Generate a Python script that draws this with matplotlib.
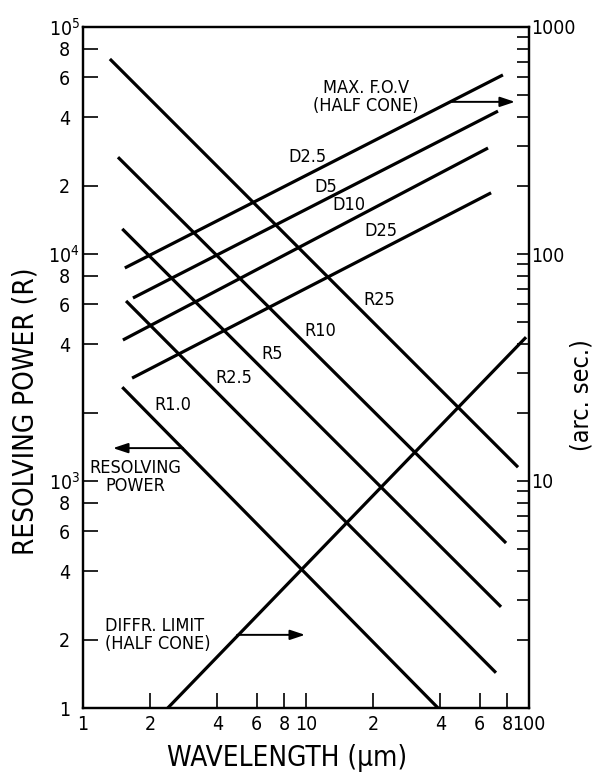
import matplotlib
matplotlib.use("Agg")
import matplotlib.pyplot as plt
from matplotlib.ticker import FixedLocator, FixedFormatter

plt.rcParams['font.family'] = ['DejaVu Sans']
plt.rcParams['font.stretch'] = 'condensed'
plt.rcParams['mathtext.default'] = 'regular'

# ---- data: resolving power lines (left axis), endpoints (wavelength um, R)
r_labels = ["R25", "R10", "R5", "R2.5", "R1.0"]
r_wave = [[1.32, 89.3], [1.435, 78.9], [1.50, 74.9], [1.56, 71.1], [1.50, 39.1]]
r_power = [[72300, 1150], [26700, 533], [12900, 279], [6210, 143], [2590, 100]]

# ---- data: max field of view lines (right axis, arc sec)
d_labels = ["D2.5", "D5", "D10", "D25"]
d_wave = [[1.54, 76.4], [1.675, 72.6], [1.51, 65.5], [1.66, 67.6]]
d_fov = [[86.8, 615], [64.0, 426], [41.8, 293], [28.4, 186]]

# ---- data: diffraction limit (right axis, arc sec)
diff_wave = [2.40, 97.0]
diff_arcsec = [1.0, 43.0]

# ---- tick labels
x_ticks = [1, 2, 4, 6, 8, 10, 20, 40, 60, 80, 100]
x_ticklabels = ["1", "2", "4", "6", "8", "10", "2", "4", "6", "8", "100"]
yl_ticks = [100, 200, 400, 600, 800, 1000, 2000, 4000, 6000, 8000,
            10000, 20000, 40000, 60000, 80000, 100000]
yl_ticklabels = ["1", "2", "4", "6", "8", "$10^3$", "", "4", "6", "8",
                 "$10^4$", "2", "4", "6", "8", "$10^5$"]
yr_major = [1, 10, 100, 1000]
yr_majorlabels = ["", "10", "100", "1000"]
yr_minor = [m * d for d in (1, 10, 100) for m in range(2, 10)]

W, H = 596, 778
fig = plt.figure(figsize=(W / 100, H / 100), dpi=100)
L, R, T, B = 83, 529, 27, 708
ax = fig.add_axes([L / W, 1 - B / H, (R - L) / W, (B - T) / H])
ax2 = ax.twinx()

lw = 2.3
for xs, ys in zip(r_wave, r_power):
    ax.plot(xs, ys, color='black', lw=lw, solid_capstyle='butt')
for xs, ys in zip(d_wave, d_fov):
    ax2.plot(xs, ys, color='black', lw=lw, solid_capstyle='butt')
ax2.plot(diff_wave, diff_arcsec, color='black', lw=lw, solid_capstyle='butt')

ax.set_xscale('log')
ax.set_yscale('log')
ax2.set_yscale('log')
ax.set_xlim(1, 100)
ax.set_ylim(100, 100000)
ax2.set_ylim(1, 1000)

fs = 14
ax.xaxis.set_major_locator(FixedLocator(x_ticks))
ax.xaxis.set_major_formatter(FixedFormatter(x_ticklabels))
ax.xaxis.set_minor_locator(FixedLocator([]))
ax.yaxis.set_major_locator(FixedLocator(yl_ticks))
ax.yaxis.set_major_formatter(FixedFormatter(yl_ticklabels))
ax.yaxis.set_minor_locator(FixedLocator([]))
ax2.yaxis.set_major_locator(FixedLocator(yr_major))
ax2.yaxis.set_major_formatter(FixedFormatter(yr_majorlabels))
ax2.yaxis.set_minor_locator(FixedLocator(yr_minor))
ax2.yaxis.set_minor_formatter(FixedFormatter([""] * len(yr_minor)))

ax.tick_params(axis='x', which='major', direction='in', length=11, width=1.2,
               labelsize=fs, pad=5, top=False)
ax.tick_params(axis='y', which='major', direction='in', length=11, width=1.2,
               labelsize=fs, pad=13.5)
for lab in ax.get_yticklabels():
    lab.set_horizontalalignment('center')
ax2.tick_params(axis='y', which='both', direction='in', length=9, width=1.2,
                labelsize=fs, pad=1.5)

for a in (ax, ax2):
    for s in a.spines.values():
        s.set_linewidth(1.6)

# line labels
afs = 13
r_text_pos = [(21.2, 6270), (11.6, 4580), (7.04, 3620), (4.75, 2840), (2.53, 2160)]
for lab, (x, y) in zip(r_labels, r_text_pos):
    ax.text(x, y, lab, fontsize=afs, ha='center', va='center')
d_text_pos = [(10.1, 267), (12.3, 197), (15.6, 164), (21.7, 126)]
for lab, (x, y) in zip(d_labels, d_text_pos):
    ax2.text(x, y, lab, fontsize=afs, ha='center', va='center')

arrow = dict(arrowstyle='-|>,head_length=0.9,head_width=0.3', color='black', lw=1.4,
             shrinkA=0, shrinkB=0)
ax2.text(18.6, 492, "MAX. F.O.V\n(HALF CONE)", fontsize=afs, ha='center',
         va='center', linespacing=1.0)
ax2.annotate("", xy=(86.5, 468), xytext=(45.2, 468), arrowprops=arrow)

ax.text(1.71, 1042, "RESOLVING\nPOWER", fontsize=afs, ha='center', va='center',
        linespacing=1.0)
ax.annotate("", xy=(1.363, 1396), xytext=(2.81, 1396), arrowprops=arrow)

ax2.text(1.255, 2.10, "DIFFR. LIMIT\n(HALF CONE)", fontsize=afs, ha='left',
         va='center', linespacing=1.05)
ax2.annotate("", xy=(9.9, 2.10), xytext=(4.91, 2.10), arrowprops=arrow)

# axis labels
fig.text(26 / W, 1 - 411 / H, "RESOLVING POWER (R)", rotation=90, fontsize=20,
         ha='center', va='center')
fig.text(287 / W, 1 - 758 / H, "WAVELENGTH (µm)", fontsize=20,
         ha='center', va='center')
fig.text(582 / W, 1 - 395 / H, "(arc. sec.)", rotation=90, fontsize=18,
         ha='center', va='center')

fig.savefig("out.png", dpi=100)
